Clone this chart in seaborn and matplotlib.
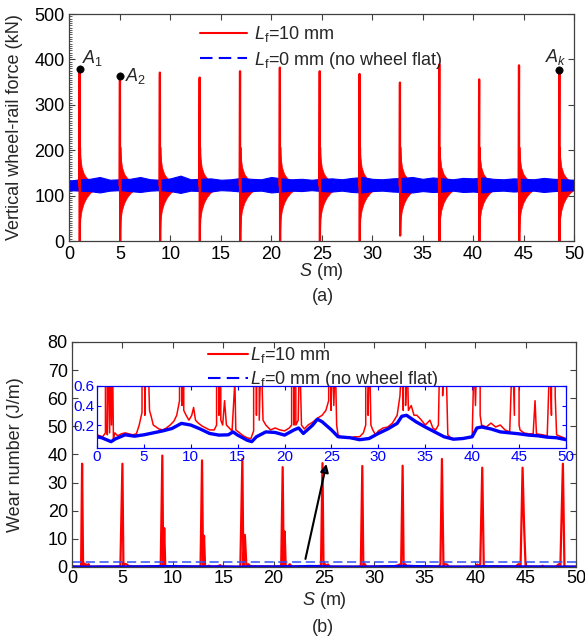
import numpy as np
import pandas as pd
import matplotlib
matplotlib.use("Agg")
import matplotlib.pyplot as plt
import seaborn as sns
from matplotlib.lines import Line2D
from matplotlib.ticker import MultipleLocator

# ---------------- data ----------------
# (a) impact peaks of the vertical wheel-rail force, L_f = 10 mm
peak_s = [1.0, 5.0, 8.96, 12.9, 16.9, 20.85, 24.8, 28.75, 32.75, 36.65, 40.6, 44.55, 48.55]
peak_force = [378, 363, 371, 360, 374, 382, 374, 368, 349, 389, 356, 387, 376]
peak_min = [0, 0, 0, 0, 0, 0, 0, 0, 12, 0, 0, 0, 0]
# envelope of the decaying oscillation after each impact
decay_dx = [0.02, 0.08, 0.2, 0.42, 0.7, 1.05, 1.45]
decay_upper = [205, 185, 163, 148, 139, 133, 130]
decay_lower = [20, 50, 68, 84, 96, 106, 113]
# envelope of the force without wheel flat (L_f = 0 mm)
band_s = list(range(51))
band_upper = [133, 136, 137, 141, 135, 136, 137, 141, 136, 135, 138, 144, 136, 137, 138, 135,
              136, 139, 137, 136, 141, 138, 136, 137, 135, 137, 138, 136, 139, 141, 137, 136,
              138, 139, 141, 137, 140, 138, 136, 139, 138, 140, 137, 136, 138, 137, 136, 139,
              137, 136, 135]
band_lower = [112, 111, 110, 107, 111, 112, 110, 108, 111, 112, 110, 106, 111, 110, 109, 112,
              111, 109, 110, 111, 107, 109, 111, 110, 112, 110, 109, 111, 108, 107, 110, 111,
              109, 108, 107, 110, 108, 109, 111, 108, 109, 107, 110, 111, 109, 110, 111, 108,
              110, 111, 112]
marked_idx = [0, 1, 12]
marked_labels = ["$A_1$", "$A_2$", "$A_k$"]

# (b) wear number, L_f = 10 mm
wear_flat_s = [0, 0.3, 0.6, 0.9, 1.0, 1.1, 1.25, 1.35, 1.45, 1.55, 1.65, 1.75, 1.9, 2.2, 2.6, 3.0,
               3.4, 3.8, 4.2, 4.5, 4.8,
               5.0, 5.1, 5.25, 5.45, 5.6, 5.8, 6.0, 6.3, 6.6, 7.0, 7.4, 7.8, 8.2, 8.5, 8.8,
               8.96, 9.05, 9.15, 9.25, 9.5, 9.8, 10.1, 10.3, 10.5, 10.8, 11.2, 11.6, 12.0, 12.5, 12.75,
               12.9, 13.0, 13.1, 13.2, 13.4, 13.6, 13.8, 14.1, 14.4, 14.7, 14.8, 15.2, 15.6, 16.0,
               16.4, 16.7,
               16.9, 17.0, 17.15, 17.3, 17.5, 17.7, 18.0, 18.5, 19.0, 19.5, 20.0, 20.5, 20.75,
               20.9, 21.0, 21.1, 21.2, 21.45, 21.6, 21.8, 22.1, 22.5, 23.0, 23.5, 24.0, 24.4, 24.7,
               24.85, 24.95, 25.1, 25.25, 25.4, 25.55, 25.7, 26.0, 26.5, 27.0, 27.5, 28.0, 28.4, 28.65,
               28.8, 28.9, 29.05, 29.2, 29.4, 29.7, 30.0, 30.5, 31.0, 31.5, 32.0, 32.3, 32.5, 32.65,
               32.8, 32.9, 33.05, 33.2, 33.5, 33.8, 34.1, 34.5, 35.0, 35.5, 35.8, 36.1, 36.4,
               36.55, 36.7, 36.85, 37.0, 37.2, 37.4, 37.7, 38.0, 38.5, 39.0, 39.5, 40.0, 40.2, 40.35,
               40.5, 40.7, 40.85, 41.0, 41.5, 42.0, 42.5, 43.0, 43.5, 44.0, 44.3,
               44.5, 44.7, 44.85, 45.0, 45.1, 45.5, 46.0, 46.5, 46.7, 46.85, 47.5, 48.0, 48.3, 48.45,
               48.7, 48.85, 49.0, 49.5, 50.0]
wear_flat = [0.10, 0.09, 0.08, 0.12, 36.7, 0.10, 1.2, 0.12, 0.9, 0.2, 1.0, 0.06, 0.12, 0.09, 0.11, 0.12,
             0.11, 0.10, 0.11, 0.2, 0.33,
             36.7, 0.3, 1.1, 0.9, 0.35, 0.28, 0.2, 0.18, 0.16, 0.15, 0.17, 0.2, 0.24, 0.3, 0.45,
             39.6, 0.4, 13.8, 0.35, 0.3, 0.25, 0.3, 0.38, 0.25, 0.22, 0.19, 0.17, 0.15, 0.15, 0.2,
             37.9, 0.3, 11.1, 0.25, 0.2, 0.45, 0.2, 0.17, 0.14, 0.65, 0.15, 0.12, 0.09, 0.07,
             0.06, 0.14,
             38.4, 0.3, 11.4, 0.25, 1.0, 0.25, 0.2, 0.15, 0.17, 0.15, 0.14, 0.17, 0.2,
             35.5, 0.2, 12.6, 0.2, 0.25, 1.0, 0.2, 0.16, 0.2, 0.23, 0.27, 0.3, 0.35, 0.45,
             36.9, 0.35, 1.0, 0.4, 0.9, 0.2, 0.1, 0.08, 0.07, 0.07, 0.08, 0.08, 0.12, 0.2,
             35.9, 0.3, 1.0, 0.2, 0.15, 0.1, 0.14, 0.17, 0.18, 0.22, 0.3, 0.5, 0.9, 0.35,
             36.0, 0.4, 1.0, 0.35, 0.4, 0.3, 0.3, 0.26, 0.2, 0.25, 0.17, 0.15, 0.2,
             1.0, 38.4, 0.5, 1.0, 0.9, 0.1, 0.07, 0.06, 0.06, 0.06, 0.07, 0.08, 0.9, 0.4,
             1.0, 35.3, 0.3, 0.2, 0.18, 0.22, 0.18, 0.2, 0.15, 0.13, 1.0,
             0.3, 35.3, 14.6, 0.2, 0.15, 0.12, 0.11, 0.11, 0.45, 0.11, 0.1, 0.09, 1.0, 0.3,
             36.7, 0.5, 0.1, 0.08, 0.06]
# (b) wear number, L_f = 0 mm
wear_ref_s = [0, 0.5, 1, 1.5, 2, 2.5, 3, 4, 5, 6, 7, 8, 9, 10, 11, 12, 13, 14, 14.5, 15, 16, 16.5,
              17, 18, 19, 20, 21, 21.5, 22, 23, 23.5, 24, 25, 25.7, 27, 28, 29, 30, 31, 32, 32.5,
              33, 34, 35, 36, 37, 38, 39, 40, 40.5, 41, 42, 43, 44, 45, 46, 47, 48, 49, 50]
wear_ref = [0.08, 0.07, 0.05, 0.03, 0.06, 0.08, 0.10, 0.086, 0.10, 0.12, 0.14, 0.165, 0.217, 0.20,
            0.16, 0.114, 0.097, 0.10, 0.13, 0.097, 0.045, 0.03, 0.08, 0.13, 0.124, 0.097, 0.15,
            0.17, 0.114, 0.2, 0.26, 0.234, 0.15, 0.08, 0.07, 0.05, 0.062, 0.114, 0.16, 0.217, 0.29,
            0.30, 0.234, 0.18, 0.13, 0.08, 0.055, 0.062, 0.08, 0.17, 0.18, 0.16, 0.13, 0.12, 0.11,
            0.097, 0.09, 0.076, 0.07, 0.05]
zoom_level = 1.9  # dashed guide in (b)
legend_labels = [r"$L_\mathrm{f}$=10 mm", r"$L_\mathrm{f}$=0 mm (no wheel flat)"]

# ---------------- style ----------------
sns.set_style("ticks")
plt.rcParams["font.family"] = ["Liberation Sans", "DejaVu Sans"]
plt.rcParams["mathtext.fontset"] = "custom"
plt.rcParams["mathtext.rm"] = "Liberation Sans"
plt.rcParams["mathtext.it"] = "Liberation Sans:italic"
plt.rcParams["font.size"] = 13
RED = "#ff0000"
BLUE = "#0000ff"
SPINE = "#404040"

fig = plt.figure(figsize=(5.85, 6.4), dpi=100)
ax_a = fig.add_axes([0.1188, 0.6234, 0.8624, 0.3547])
ax_b = fig.add_axes([0.1231, 0.1141, 0.8615, 0.3516])
ax_i = fig.add_axes([0.1658, 0.3000, 0.8017, 0.0969])


def style_axes(ax, color=SPINE, size=13, length=4, xpad=2, ypad=2):
    for sp in ax.spines.values():
        sp.set_color(color)
        sp.set_linewidth(0.9)
    lc = "black" if color == SPINE else color
    ax.tick_params(direction="in", top=True, right=True, length=length, width=0.8,
                   color=color, labelsize=size, labelcolor=lc)
    ax.tick_params(axis="x", pad=xpad)
    ax.tick_params(axis="y", pad=ypad)


# ---------------- (a) ----------------
rows = []
for k, (s, pk, mn) in enumerate(zip(peak_s, peak_force, peak_min)):
    for dx, f in [(-0.04, 122), (0.0, pk), (0.02, mn), (0.05, decay_upper[0])]:
        rows.append({"peak": k, "S": s + dx, "F": f})
spikes = pd.DataFrame(rows)
for s in peak_s:
    ax_a.fill_between(np.array(decay_dx) + s, decay_lower, decay_upper, color=RED, lw=0.5,
                      ec=RED)
sns.lineplot(data=spikes, x="S", y="F", units="peak", estimator=None, sort=False,
             color=RED, lw=1.6, ax=ax_a, legend=False)
ax_a.fill_between(band_s, band_lower, band_upper, color=BLUE, lw=0.8, ec=BLUE)
ms = [peak_s[i] for i in marked_idx]
mf = [peak_force[i] for i in marked_idx]
sns.scatterplot(x=ms, y=mf, color="black", s=28, ax=ax_a, zorder=5, edgecolor="black")
ax_a.text(ms[0] + 0.2, mf[0] + 4, marked_labels[0], fontsize=13, va="bottom", ha="left")
ax_a.text(ms[1] + 0.55, mf[1], marked_labels[1], fontsize=13, va="center", ha="left")
ax_a.text(ms[2] - 0.3, mf[2] + 8, marked_labels[2], fontsize=13, va="bottom", ha="center")

ax_a.set_xlim(0, 50)
ax_a.set_ylim(0, 500)
ax_a.xaxis.set_major_locator(MultipleLocator(5))
ax_a.yaxis.set_major_locator(MultipleLocator(100))
ax_a.yaxis.set_minor_locator(MultipleLocator(5))
style_axes(ax_a, xpad=3.5, ypad=3.5)
ax_a.tick_params(which="minor", direction="in", left=True, right=False, top=False,
                 bottom=False, length=2, width=0.6, color=SPINE)
ax_a.set_xlabel("$S$ (m)", labelpad=-1)
ax_a.set_ylabel("Vertical wheel-rail force (kN)")
ax_a.yaxis.set_label_coords(-0.093, 0.5)

handles = [Line2D([], [], color=RED, lw=1.5),
           Line2D([], [], color=BLUE, lw=1.5, ls=(0, (6, 3)))]
ax_a.legend(handles, legend_labels, loc="upper left", bbox_to_anchor=(0.258, 0.955),
            frameon=False, borderpad=0, borderaxespad=0, handlelength=2.6,
            handletextpad=0.4, labelspacing=0.3, fontsize=13)

# ---------------- (b) ----------------
sns.lineplot(x=wear_flat_s, y=wear_flat, estimator=None, sort=False, color=RED, lw=1.6,
             ax=ax_b)
sns.lineplot(x=wear_ref_s, y=wear_ref, estimator=None, sort=False, color=BLUE, lw=2.0,
             ax=ax_b)
ax_b.axhline(zoom_level, color="#3050ff", lw=1.1, ls=(0, (6, 3)))
ax_b.annotate("", xy=(25.3, 37.6), xytext=(23.1, zoom_level),
              arrowprops=dict(arrowstyle="-|>", color="black", lw=1.5, mutation_scale=12,
                              fc="#0a1a80"))
ax_b.set_xlim(0, 50)
ax_b.set_ylim(0, 80)
ax_b.xaxis.set_major_locator(MultipleLocator(5))
ax_b.yaxis.set_major_locator(MultipleLocator(10))
style_axes(ax_b, xpad=2.5, ypad=3)
ax_b.set_xlabel("$S$ (m)", labelpad=2)
ax_b.set_ylabel("Wear number (J/m)")
ax_b.yaxis.set_label_coords(-0.095, 0.5)
ax_b.legend(handles, legend_labels, loc="upper left", bbox_to_anchor=(0.27, 0.985),
            frameon=False, borderpad=0, borderaxespad=0, handlelength=2.2,
            handletextpad=0.1, labelspacing=0.2, fontsize=13)

# ---------------- inset ----------------
sns.lineplot(x=wear_flat_s, y=wear_flat, estimator=None, sort=False, color=RED, lw=1.1,
             ax=ax_i)
sns.lineplot(x=wear_ref_s, y=wear_ref, estimator=None, sort=False, color=BLUE, lw=2.4,
             ax=ax_i)
ax_i.set_xlim(0, 50)
ax_i.set_ylim(-0.035, 0.6)
ax_i.set_yticks([0.2, 0.4, 0.6])
ax_i.set_yticklabels(["0.2", "0.4", "0.6"])
ax_i.xaxis.set_major_locator(MultipleLocator(5))
style_axes(ax_i, color=BLUE, size=11, length=3, xpad=1.5, ypad=1.5)
ax_i.set_xlabel("")
ax_i.set_ylabel("")
ax_i.set_facecolor("white")

fig.text(0.552, 0.536, "(a)", ha="center", va="center", fontsize=13)
fig.text(0.552, 0.019, "(b)", ha="center", va="center", fontsize=13)

fig.savefig("out.png", dpi=100)
